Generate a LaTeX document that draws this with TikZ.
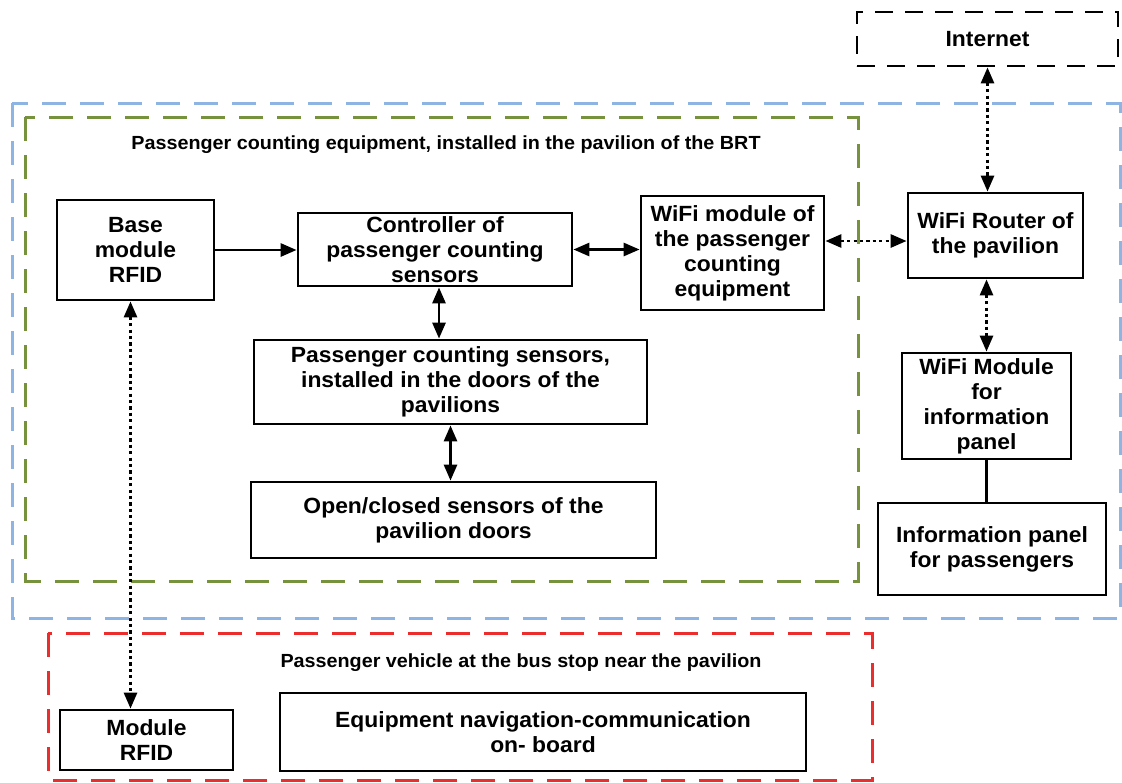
\documentclass[tikz,border=0pt]{standalone}
\usepackage{fontspec}
\setmainfont{Liberation Sans}[FakeStretch=1.04]
\usetikzlibrary{arrows.meta,calc,positioning}
\definecolor{grpblue}{RGB}{142,180,227}
\definecolor{grpgreen}{RGB}{118,146,60}
\definecolor{grpred}{RGB}{235,45,45}
\tikzset{
  blk/.style={draw,line width=1.4pt,align=center,inner sep=1pt,
    font=\bfseries\fontsize{11}{12.5}\selectfont},
  grp/.style={line width=1.5pt,dash pattern=on 12pt off 7pt},
  grptitle/.style={font=\bfseries\fontsize{9.5}{11}\selectfont},
  link/.style={-{Triangle[length=8pt,width=6.5pt]},line width=1.4pt},
  blink/.style={{Triangle[length=8pt,width=6.5pt]}-{Triangle[length=8pt,width=6.5pt]},line width=1.4pt},
  wlink/.style={blink,dash pattern=on 1.6pt off 1.6pt},
  plain/.style={line width=1.4pt}
}
\begin{document}
\begin{tikzpicture}[x=0.5pt,y=-0.5pt]
\useasboundingbox (0,0) rectangle (1122,782);

% groups
\draw[grp,grpblue] (12,103) rectangle (1120,618);
\draw[grp,grpgreen] (25,117) rectangle (858,581);
\draw[grp,grpred] (48,633) rectangle (872,780);
\node[grptitle] (pcetitle) at (446,145) {Passenger counting equipment, installed in the pavilion of the BRT};
\node[grptitle] (pvtitle) at (521,663) {Passenger vehicle at the bus stop near the pavilion};

% blocks
\node[blk,dash pattern=on 9pt off 6pt,minimum width=130.5pt,minimum height=27pt] (inet) at (987.5,39) {Internet};
\node[blk,minimum width=78.5pt,minimum height=50pt] (base) at (135.5,250) {Base\\module\\RFID};
\node[blk,minimum width=137pt,minimum height=36.5pt] (ctrl) at (435,249.5) {Controller of\\passenger counting\\sensors};
\node[blk,minimum width=91.5pt,minimum height=57pt] (wifi) at (732.5,253) {WiFi module of\\the passenger\\counting\\equipment};
\node[blk,minimum width=87.5pt,minimum height=42.5pt] (router) at (995.5,235.5) {WiFi Router of\\the pavilion};
\node[blk,minimum width=196.5pt,minimum height=42pt] (sens) at (450.5,382) {Passenger counting sensors,\\installed in the doors of the\\pavilions};
\node[blk,minimum width=202.5pt,minimum height=38pt] (doors) at (453.5,520) {Open/closed sensors of the\\pavilion doors};
\node[blk,minimum width=84.5pt,minimum height=53pt] (wifiinfo) at (986.5,406) {WiFi Module\\for\\information\\panel};
\node[blk,minimum width=114pt,minimum height=46pt] (panel) at (992,549) {Information panel\\for passengers};
\node[blk,minimum width=86.5pt,minimum height=30pt] (rfid) at (146.5,740) {Module\\RFID};
\node[blk,minimum width=263pt,minimum height=39pt] (nav) at (543,732) {Equipment navigation-communication\\on- board};

% connections
\draw[link] (base.east) -- (base.east -| ctrl.west);
\draw[blink] (ctrl.east) -- (ctrl.east -| wifi.west);
\draw[wlink] ($(wifi.east)+(0,-12)$) -- ($(wifi.east -| router.west)+(0,-12)$);
\draw[wlink] (inet.south) -- (inet.south |- router.north);
\draw[wlink] (router.south -| wifiinfo.north) -- (wifiinfo.north);
\draw[plain] (wifiinfo.south) -- (wifiinfo.south |- panel.north);
\draw[blink] ($(ctrl.south)+(4,0)$) -- ($(ctrl.south |- sens.north)+(4,0)$);
\draw[blink] (sens.south) -- (sens.south |- doors.north);
\draw[wlink] ($(base.south)+(-5,0)$) -- ($(base.south |- rfid.north)+(-5,0)$);
\end{tikzpicture}
\end{document}
